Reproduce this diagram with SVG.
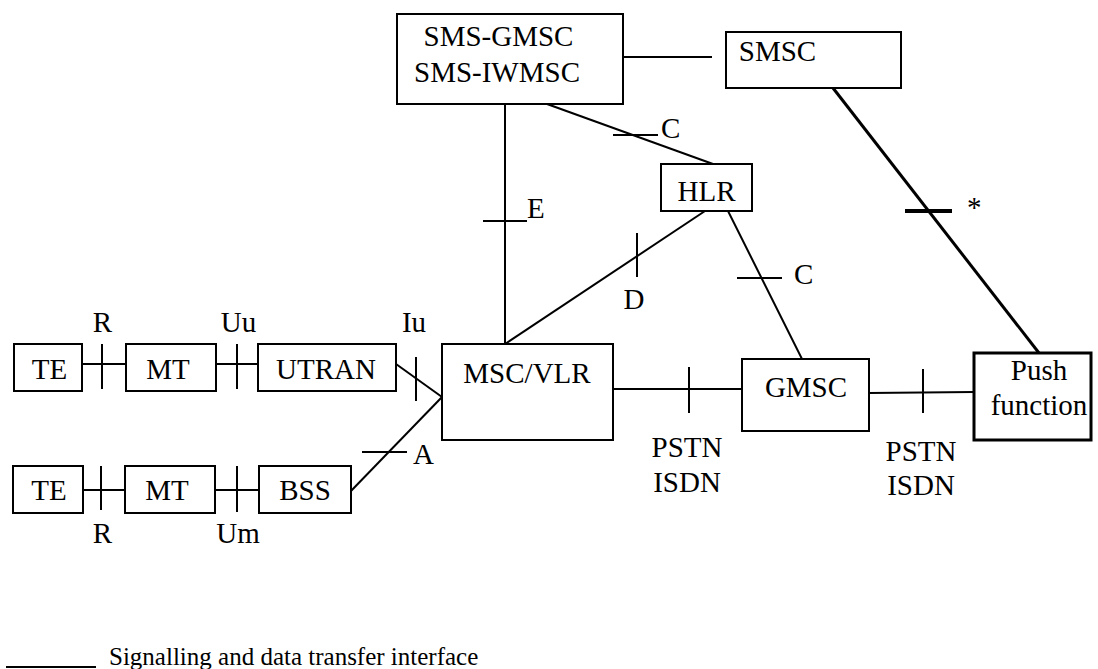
<svg xmlns="http://www.w3.org/2000/svg" width="1098" height="669" viewBox="0 0 1098 669">
<style>
.box{fill:#fff;stroke:#000;stroke-width:2}
.thickbox{fill:#fff;stroke:#000;stroke-width:3}
.ln{stroke:#000;stroke-width:2;fill:none}
.thick{stroke:#000;stroke-width:3;fill:none}
.tick{stroke:#000;stroke-width:4;fill:none}
text{font-family:"Liberation Serif","Times New Roman",serif;font-size:29px;fill:#000}
.m{text-anchor:middle}
.leg{font-size:25px}
</style>
<rect width="1098" height="669" fill="#fff"/>
<g id="connectors">
<line class="ln" x1="623" y1="57" x2="712" y2="57"/>
<line class="ln" x1="505" y1="104" x2="505" y2="344"/>
<line class="ln" x1="483" y1="221" x2="527" y2="221"/>
<line class="ln" x1="547" y1="104" x2="713" y2="164"/>
<line class="ln" x1="613" y1="135" x2="658" y2="135"/>
<line class="ln" x1="705" y1="211" x2="505" y2="344"/>
<line class="ln" x1="637" y1="233" x2="637" y2="277"/>
<line class="ln" x1="728" y1="211" x2="802" y2="359"/>
<line class="ln" x1="737" y1="278" x2="782" y2="278"/>
<line class="thick" x1="833" y1="88" x2="1039" y2="353"/>
<line class="tick" x1="905" y1="211" x2="952" y2="211"/>
<line class="ln" x1="613" y1="389" x2="742" y2="389"/>
<line class="ln" x1="689" y1="367" x2="689" y2="413"/>
<line class="ln" x1="869" y1="393" x2="974" y2="392"/>
<line class="ln" x1="923" y1="369" x2="923" y2="413"/>
<line class="ln" x1="82" y1="364" x2="126" y2="364"/>
<line class="ln" x1="102" y1="344" x2="102" y2="389"/>
<line class="ln" x1="216" y1="364" x2="258" y2="364"/>
<line class="ln" x1="237" y1="344" x2="237" y2="389"/>
<line class="ln" x1="396" y1="364" x2="442" y2="397"/>
<line class="ln" x1="416" y1="357" x2="416" y2="401"/>
<line class="ln" x1="350" y1="492" x2="442" y2="397"/>
<line class="ln" x1="362" y1="452" x2="407" y2="452"/>
<line class="ln" x1="83" y1="490" x2="125" y2="490"/>
<line class="ln" x1="101" y1="466" x2="101" y2="510"/>
<line class="ln" x1="215" y1="490" x2="259" y2="490"/>
<line class="ln" x1="237" y1="466" x2="237" y2="512"/>
<text x="527" y="218">E</text>
<text x="661" y="138">C</text>
<text x="794" y="284">C</text>
<text class="m" x="634" y="309">D</text>
<text x="967" y="217">*</text>
<text class="m" x="687" y="457">PSTN</text>
<text class="m" x="687" y="492">ISDN</text>
<text class="m" x="921" y="461">PSTN</text>
<text class="m" x="921" y="495">ISDN</text>
<text class="m" x="102.5" y="332">R</text>
<text class="m" x="238.5" y="332">Uu</text>
<text class="m" x="414" y="332">Iu</text>
<text class="m" x="102.5" y="543">R</text>
<text class="m" x="238" y="543">Um</text>
<text x="413" y="464">A</text>
</g>
<g id="sms-gmsc"><rect class="box" x="397" y="14" width="226" height="90"/><text class="m" x="498.5" y="46">SMS-GMSC</text><text class="m" x="497" y="82">SMS-IWMSC</text></g>
<g id="smsc"><rect class="box" x="726" y="32" width="175" height="56"/><text class="m" x="777.5" y="61">SMSC</text></g>
<g id="hlr"><rect class="box" x="661" y="164" width="91" height="47"/><text class="m" x="706.5" y="201">HLR</text></g>
<g id="msc-vlr"><rect class="box" x="442" y="344" width="171" height="96"/><text class="m" x="527" y="383">MSC/VLR</text></g>
<g id="gmsc"><rect class="box" x="742" y="359" width="127" height="72"/><text class="m" x="806" y="397">GMSC</text></g>
<g id="push"><rect class="thickbox" x="974" y="353" width="117" height="87"/><text class="m" x="1039" y="380">Push</text><text class="m" x="1039" y="415">function</text></g>
<g id="te1"><rect class="box" x="14" y="344" width="68" height="47"/><text class="m" x="49.5" y="379">TE</text></g>
<g id="mt1"><rect class="box" x="126" y="344" width="90" height="47"/><text class="m" x="168" y="379">MT</text></g>
<g id="utran"><rect class="box" x="258" y="344" width="138" height="47"/><text class="m" x="326" y="379">UTRAN</text></g>
<g id="te2"><rect class="box" x="13" y="466" width="70" height="47"/><text class="m" x="49" y="500">TE</text></g>
<g id="mt2"><rect class="box" x="125" y="466" width="90" height="47"/><text class="m" x="167" y="500">MT</text></g>
<g id="bss"><rect class="box" x="259" y="466" width="92" height="47"/><text class="m" x="305" y="500">BSS</text></g>
<g id="legend"><line class="ln" x1="6" y1="667" x2="96" y2="667"/><text class="leg" x="109" y="665">Signalling and data transfer interface</text></g>
</svg>
